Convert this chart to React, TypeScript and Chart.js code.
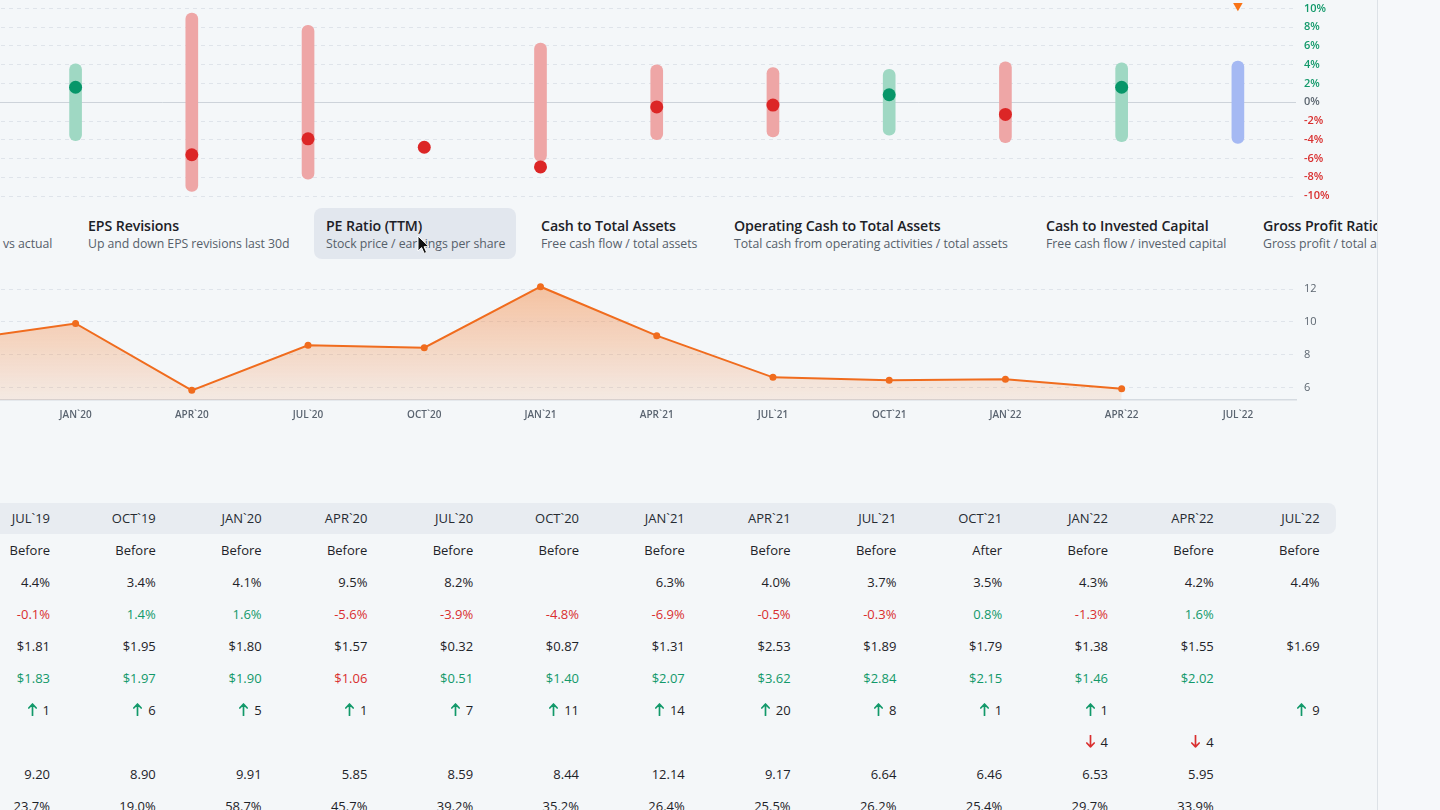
import React, { useEffect, useRef } from "react";
import { Chart, registerables } from "chart.js";

Chart.register(...registerables);

// ---------- data ----------
const quarters = ["JUL`19", "OCT`19", "JAN`20", "APR`20", "JUL`20", "OCT`20", "JAN`21", "APR`21", "JUL`21", "OCT`21", "JAN`22", "APR`22", "JUL`22"];
const timing = ["Before", "Before", "Before", "Before", "Before", "Before", "Before", "Before", "Before", "After", "Before", "Before", "Before"];
const expectedMove: (number | null)[] = [4.4, 3.4, 4.1, 9.5, 8.2, null, 6.3, 4.0, 3.7, 3.5, 4.3, 4.2, 4.4];
const surprise: (number | null)[] = [-0.1, 1.4, 1.6, -5.6, -3.9, -4.8, -6.9, -0.5, -0.3, 0.8, -1.3, 1.6, null];
const epsEstimate: (number | null)[] = [1.81, 1.95, 1.8, 1.57, 0.32, 0.87, 1.31, 2.53, 1.89, 1.79, 1.38, 1.55, 1.69];
const epsActual: (number | null)[] = [1.83, 1.97, 1.9, 1.06, 0.51, 1.4, 2.07, 3.62, 2.84, 2.15, 1.46, 2.02, null];
const revisionsUp: (number | null)[] = [1, 6, 5, 1, 7, 11, 14, 20, 8, 1, 1, null, 9];
const revisionsDown: (number | null)[] = [null, null, null, null, null, null, null, null, null, null, 4, 4, null];
const peRatio: (number | null)[] = [9.2, 8.9, 9.91, 5.85, 8.59, 8.44, 12.14, 9.17, 6.64, 6.46, 6.53, 5.95, null];
const lastRowPct: (number | null)[] = [23.7, 19.0, 58.7, 45.7, 39.2, 35.2, 26.4, 25.5, 26.2, 25.4, 29.7, 33.9, null];
const upcomingMarker: (number | null)[] = [null, null, null, null, null, null, null, null, null, null, null, null, 10.3];
const surpriseMin = -10;
const surpriseMax = 10;
const surpriseStep = 2;
const peMin = 5.265;
const peMax = 13.354;
const peStep = 2;

const tabs = [
  { title: "", sub: "vs actual", x: 3 },
  { title: "EPS Revisions", sub: "Up and down EPS revisions last 30d", x: 88 },
  { title: "PE Ratio (TTM)", sub: "Stock price / earnings per share", x: 326 },
  { title: "Cash to Total Assets", sub: "Free cash flow / total assets", x: 541 },
  { title: "Operating Cash to Total Assets", sub: "Total cash from operating activities / total assets", x: 734 },
  { title: "Cash to Invested Capital", sub: "Free cash flow / invested capital", x: 1046 },
  { title: "Gross Profit Ratio", sub: "Gross profit / total assets", x: 1263 },
];

// ---------- styles ----------
const FONT = "'Open Sans', 'Noto Sans', sans-serif";
const BG = "#f4f7f9";
const GREEN = "#12996a";
const RED = "#d92f2f";
const TEXT = "#1e2328";
const GRID = "#dfe4ea";

const CANVAS_LEFT = -215.5;
const PLOT_W = 1511;
const AXIS_W = 48;

const fixYAxis = (s: any) => {
  s.width = AXIS_W;
  s.paddingTop = 0;
  s.paddingBottom = 0;
};

function TopChart() {
  const ref = useRef<HTMLCanvasElement | null>(null);
  useEffect(() => {
    if (!ref.current) return;
    const ranges = expectedMove.map((v) => (v == null ? null : [-v, v]));
    const barColors = surprise.map((s) => (s == null ? "#a5b9f3" : s >= 0 ? "#9fd8c3" : "#eea6a6"));
    const dotColors = surprise.map((s) => (s != null && s >= 0 ? "#079669" : "#dc2626"));
    const chart = new Chart(ref.current, {
      type: "bar",
      data: {
        labels: quarters,
        datasets: [
          {
            type: "line",
            data: upcomingMarker as any,
            showLine: false,
            pointStyle: "triangle",
            rotation: 180,
            pointRadius: 5.5,
            pointBackgroundColor: "#f97316",
            pointBorderWidth: 0,
            clip: false as any,
            order: 0,
          } as any,
          {
            type: "line",
            data: surprise as any,
            showLine: false,
            pointRadius: 6.5,
            pointBackgroundColor: dotColors,
            pointBorderWidth: 0,
            clip: false as any,
            order: 1,
          } as any,
          {
            type: "bar",
            data: ranges as any,
            backgroundColor: barColors,
            barThickness: 12,
            borderRadius: 6,
            borderSkipped: false,
            order: 2,
          } as any,
        ],
      },
      options: {
        animation: false,
        responsive: false,
        maintainAspectRatio: false,
        layout: { autoPadding: false, padding: { top: 8.5, bottom: 9, left: 0, right: 0 } } as any,
        plugins: { legend: { display: false }, tooltip: { enabled: false } },
        scales: {
          x: { display: false, offset: true },
          y: {
            position: "right",
            min: surpriseMin,
            max: surpriseMax,
            ticks: {
              stepSize: surpriseStep,
              padding: 8,
              callback: (v: any) => v + "%",
              color: (c: any) => (c.tick.value > 0 ? GREEN : c.tick.value < 0 ? RED : "#5c6670"),
              font: { family: FONT, size: 11, weight: 600 as any },
            },
            grid: {
              drawTicks: false,
              color: (c: any) => (c.tick && c.tick.value === 0 ? "#cdd3da" : GRID),
            },
            border: { display: false, dash: (c: any) => (c.tick && c.tick.value === 0 ? [] : [4, 4]) } as any,
            afterFit: fixYAxis,
          } as any,
        },
      },
    });
    return () => chart.destroy();
  }, []);
  return (
    <canvas
      ref={ref}
      width={PLOT_W + AXIS_W}
      height={205}
      style={{ position: "absolute", left: CANVAS_LEFT, top: 0, width: PLOT_W + AXIS_W, height: 205 }}
    />
  );
}

function PeChart() {
  const ref = useRef<HTMLCanvasElement | null>(null);
  useEffect(() => {
    if (!ref.current) return;
    const chart = new Chart(ref.current, {
      type: "line",
      data: {
        labels: quarters,
        datasets: [
          {
            data: peRatio as any,
            borderColor: "#f06c1e",
            borderWidth: 2,
            pointRadius: 3.5,
            pointBackgroundColor: "#f06c1e",
            pointBorderWidth: 0,
            tension: 0,
            fill: "start",
            backgroundColor: (c: any) => {
              const a = c.chart.chartArea;
              if (!a) return "rgba(245,120,40,0.25)";
              const g = c.chart.ctx.createLinearGradient(0, a.top, 0, a.bottom);
              g.addColorStop(0, "rgba(245,120,40,0.48)");
              g.addColorStop(1, "rgba(245,120,40,0.10)");
              return g;
            },
          },
        ],
      },
      options: {
        animation: false,
        responsive: false,
        maintainAspectRatio: false,
        layout: { autoPadding: false, padding: { top: 9.7, bottom: 0, left: 0, right: 0 } } as any,
        plugins: { legend: { display: false }, tooltip: { enabled: false } },
        scales: {
          x: {
            offset: true,
            grid: { display: false },
            border: { display: true, color: "#d5dbe1", width: 1.5 },
            ticks: {
              maxRotation: 0,
              autoSkip: false,
              padding: 1,
              color: "#5a6470",
              font: { family: FONT, size: 10, weight: 600 as any },
            },
            afterFit: (s: any) => {
              s.height = 30;
            },
          } as any,
          y: {
            position: "right",
            min: peMin,
            max: peMax,
            ticks: {
              stepSize: peStep,
              includeBounds: false,
              padding: 8,
              color: "#5c6670",
              font: { family: FONT, size: 11 },
            },
            grid: { drawTicks: false, color: GRID },
            border: { display: false, dash: [4, 4] } as any,
            afterFit: fixYAxis,
          } as any,
        },
      },
    });
    return () => chart.destroy();
  }, []);
  return (
    <canvas
      ref={ref}
      width={PLOT_W + AXIS_W}
      height={173}
      style={{ position: "absolute", left: CANVAS_LEFT, top: 257, width: PLOT_W + AXIS_W, height: 173 }}
    />
  );
}

const COL_RIGHT0 = 50;
const COL_STEP = 105.8;
const ROW_TOP0 = 534;
const ROW_H = 32;

function Arrow({ up, color }: { up: boolean; color: string }) {
  return (
    <svg
      width="9"
      height="13"
      viewBox="0 0 9 13"
      style={{ display: "inline-block", verticalAlign: "-1px", marginRight: 6, transform: up ? undefined : "rotate(180deg)" }}
    >
      <path d="M4.5 12.5 L4.5 1.2 M0.8 5 L4.5 1.2 L8.2 5" fill="none" stroke={color} strokeWidth="1.7" strokeLinecap="round" strokeLinejoin="round" />
    </svg>
  );
}

function Cell({ col, row, children, color }: { col: number; row: number; children: any; color?: string }) {
  const right = COL_RIGHT0 + COL_STEP * col;
  return (
    <div
      style={{
        position: "absolute",
        left: right - 100,
        width: 100,
        top: ROW_TOP0 + ROW_H * row,
        height: ROW_H,
        lineHeight: ROW_H + "px",
        textAlign: "right",
        color: color || TEXT,
        fontSize: 13,
        whiteSpace: "nowrap",
      }}
    >
      {children}
    </div>
  );
}

function Table() {
  const cells: any[] = [];
  quarters.forEach((q, i) => {
    cells.push(
      <div
        key={"h" + i}
        style={{
          position: "absolute",
          left: COL_RIGHT0 + COL_STEP * i - 100,
          width: 100,
          top: 503,
          height: 31,
          lineHeight: "31px",
          textAlign: "right",
          fontSize: 13,
          color: "#262b31",
        }}
      >
        {q}
      </div>
    );
    cells.push(<Cell key={"t" + i} col={i} row={0}>{timing[i]}</Cell>);
    if (expectedMove[i] != null) cells.push(<Cell key={"m" + i} col={i} row={1}>{expectedMove[i]!.toFixed(1)}%</Cell>);
    const s = surprise[i];
    if (s != null) cells.push(<Cell key={"s" + i} col={i} row={2} color={s >= 0 ? GREEN : RED}>{s.toFixed(1)}%</Cell>);
    if (epsEstimate[i] != null) cells.push(<Cell key={"e" + i} col={i} row={3}>${epsEstimate[i]!.toFixed(2)}</Cell>);
    const a = epsActual[i];
    if (a != null) cells.push(<Cell key={"a" + i} col={i} row={4} color={a >= (epsEstimate[i] || 0) ? GREEN : RED}>${a.toFixed(2)}</Cell>);
    if (revisionsUp[i] != null)
      cells.push(
        <Cell key={"u" + i} col={i} row={5}>
          <Arrow up={true} color={GREEN} />
          {revisionsUp[i]}
        </Cell>
      );
    if (revisionsDown[i] != null)
      cells.push(
        <Cell key={"d" + i} col={i} row={6}>
          <Arrow up={false} color={RED} />
          {revisionsDown[i]}
        </Cell>
      );
    if (peRatio[i] != null) cells.push(<Cell key={"p" + i} col={i} row={7}>{peRatio[i]!.toFixed(2)}</Cell>);
    if (lastRowPct[i] != null) cells.push(<Cell key={"l" + i} col={i} row={8}>{lastRowPct[i]!.toFixed(1)}%</Cell>);
  });
  return (
    <>
      <div
        style={{
          position: "absolute",
          left: 0,
          top: 503,
          width: 1336,
          height: 31,
          background: "#e8ecf1",
          borderRadius: "0 8px 8px 0",
        }}
      />
      {cells}
    </>
  );
}

function Tabs() {
  return (
    <>
      <div
        style={{
          position: "absolute",
          left: 314,
          top: 208,
          width: 202,
          height: 51,
          background: "#e2e7ee",
          borderRadius: 8,
        }}
      />
      {tabs.map((t, i) => (
        <div key={i} style={{ position: "absolute", left: t.x, top: 215, whiteSpace: "nowrap" }}>
          <div style={{ fontSize: 14.2, fontWeight: 600, color: "#1c2127", height: 22, lineHeight: "22px", letterSpacing: -0.1 }}>{t.title}</div>
          <div style={{ fontSize: 12.3, color: "#56606a", height: 16, lineHeight: "16px", marginTop: -1, letterSpacing: -0.05 }}>{t.sub}</div>
        </div>
      ))}
    </>
  );
}

export default function App() {
  return (
    <div
      style={{
        position: "fixed",
        left: 0,
        top: 0,
        width: 1440,
        height: 810,
        overflow: "hidden",
        background: BG,
        fontFamily: FONT,
      }}
    >
      <TopChart />
      <Tabs />
      <PeChart />
      <Table />
      <svg style={{ position: "absolute", left: 417, top: 235 }} width="14" height="20" viewBox="0 0 14 20">
        <path d="M1 1 L1 16 L4.6 12.6 L7.2 18.4 L9.6 17.4 L7.1 11.7 L12 11.7 Z" fill="#111" stroke="#fff" strokeWidth="1" />
      </svg>
      <div
        style={{
          position: "absolute",
          left: 1377,
          top: 0,
          width: 63,
          height: 810,
          background: "#f6f8fa",
          borderLeft: "1px solid #dde2e7",
        }}
      />
    </div>
  );
}
